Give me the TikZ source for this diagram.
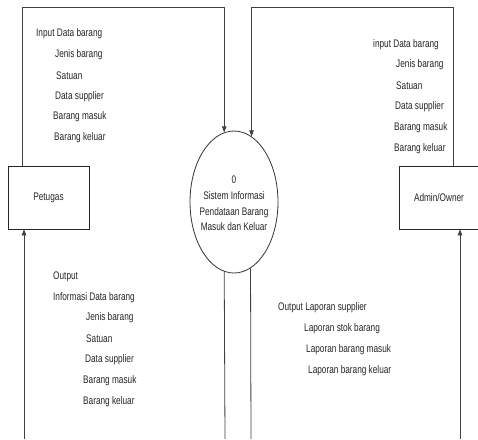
\documentclass[tikz,border=0pt]{standalone}
\usepackage{fontspec}
\setmainfont[FakeStretch=0.75]{Liberation Sans}
\usetikzlibrary{shapes.geometric,arrows.meta}
\begin{document}
\begin{tikzpicture}[x=1pt,y=-1pt,
  lbl/.style={anchor=west,inner sep=0pt,text=black!85,font=\fontsize{11}{15.7}\selectfont},
  entity/.style={draw=black!85,line width=0.8pt,minimum width=81pt,minimum height=63pt,inner sep=0pt,text=black!85,font=\fontsize{11}{15.7}\selectfont},
  procshape/.style={draw=black!80,line width=0.8pt,ellipse,minimum width=88pt,minimum height=142pt,inner sep=0pt},
  flow/.style={draw=black!75,line width=0.8pt},
  flowarrow/.style={flow,-{Triangle[length=6pt,width=4.5pt]}}]
\clip (0,0) rectangle (478,439);
\fill[white] (0,0) rectangle (478,439);

% nodes
\node[entity] (petugas) at (48.5,197.5) {Petugas};
\node[entity,minimum width=80pt] (admin) at (439,197.5) {Admin/Owner};
\node[procshape] (proc) at (234,202) {};
\node[align=center,inner sep=0pt,text=black!85,font=\fontsize{11}{15.7}\selectfont] (proctext) at (234,203.5)
  {0\\Sistem Informasi\\Pendataan Barang\\Masuk dan Keluar};

% corner / free-end coordinates
\coordinate (topL) at (22,7);
\coordinate (topR) at (453,7);
\coordinate (botLL) at (24,439);
\coordinate (botRR) at (460,439);
\coordinate (botPL) at (225,439);
\coordinate (botPR) at (251,439);

% connectors
\draw[flowarrow] (petugas.north -| topL) -- (topL) -| (proc.98.2);
\draw[flowarrow] (admin.north -| topR) -- (topR) -| (proc.75.4);
\draw[flow] (proc.262.6) -- (botPL);
\draw[flow] (proc.284.6) -- (botPR);
\draw[flowarrow] (botLL) -- (petugas.south -| botLL);
\draw[flowarrow] (botRR) -- (admin.south -| botRR);

% labels top-left
\node[lbl] (l1) at (36,34) {Input Data barang};
\node[lbl] (l2) at (55,55) {Jenis barang};
\node[lbl] (l3) at (56,76) {Satuan};
\node[lbl] (l4) at (55,97) {Data supplier};
\node[lbl] (l5) at (53,117) {Barang masuk};
\node[lbl] (l6) at (54,138) {Barang keluar};

% labels top-right
\node[lbl] (r1) at (373,45) {input Data barang};
\node[lbl] (r2) at (396,65) {Jenis barang};
\node[lbl] (r3) at (396,86) {Satuan};
\node[lbl] (r4) at (395,107) {Data supplier};
\node[lbl] (r5) at (394,128) {Barang masuk};
\node[lbl] (r6) at (394,149) {Barang keluar};

% labels bottom-left
\node[lbl] (o0) at (53,277) {Output};
\node[lbl] (o1) at (53,298) {Informasi Data barang};
\node[lbl] (o2) at (86,318) {Jenis barang};
\node[lbl] (o3) at (86,339) {Satuan};
\node[lbl] (o4) at (85,360) {Data supplier};
\node[lbl] (o5) at (83,381) {Barang masuk};
\node[lbl] (o6) at (83,402) {Barang keluar};

% labels bottom-right
\node[lbl] (p1) at (278,308) {Output Laporan supplier};
\node[lbl] (p2) at (304,329) {Laporan stok barang};
\node[lbl] (p3) at (306,350) {Laporan barang masuk};
\node[lbl] (p4) at (308,371) {Laporan barang keluar};
\end{tikzpicture}
\end{document}
